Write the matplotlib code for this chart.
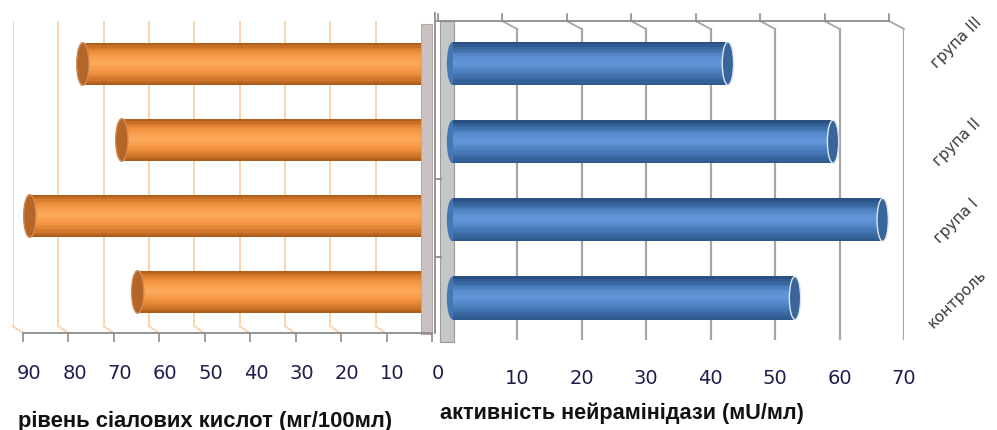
import matplotlib
matplotlib.use('Agg')
import matplotlib.pyplot as plt
from matplotlib.patches import Ellipse, Rectangle
from matplotlib.lines import Line2D
from matplotlib.colors import LinearSegmentedColormap
from matplotlib.transforms import ScaledTranslation

# data
groups = ['контроль', 'група I', 'група II', 'група III']
sialic = [62.5, 86.3, 66.0, 74.6]          # рівень сіалових кислот (мг/100мл)
neuraminidase = [53.1, 66.7, 59.0, 42.7]   # активність нейрамінідази (мU/мл)
left_ticks = [90, 80, 70, 60, 50, 40, 30, 20, 10, 0]
right_ticks = [0, 10, 20, 30, 40, 50, 60, 70]   # the shared "0" is drawn once, by the left axis
left_title = 'рівень сіалових кислот (мг/100мл)'
right_title = 'активність нейрамінідази (мU/мл)'

W, H = 997, 431
fig = plt.figure(figsize=(W / 100, H / 100), dpi=100)


def box(x0, y0, x1, y1):
    # pixel box (top-left origin) -> figure rect
    return [x0 / W, 1 - y1 / H, (x1 - x0) / W, (y1 - y0) / H]


def fig_line(xs, ys, **kw):
    fig.add_artist(Line2D([x / W for x in xs], [1 - y / H for y in ys], **kw))


def shift(artist, dx, dy):
    # nudge a text by pixels (perspective offsets of the 3d original)
    artist.set_transform(artist.get_transform() +
                         ScaledTranslation(dx / 100, dy / 100, fig.dpi_scale_trans))


def cylinder(ax, vals, h, stops, cap, cap_edge, cap_w, start=None, n=18):
    cmap = LinearSegmentedColormap.from_list('cyl', stops)
    pos = list(range(len(vals)))
    for k in range(n):
        off = -h / 2 + (k + 0.5) * h / n
        ax.barh([p + off for p in pos], vals, height=h / n * 1.05,
                color=cmap(1 - (k + 0.5) / n), lw=0, zorder=3)
    for p, v in zip(pos, vals):
        ax.add_patch(Ellipse((v, p), cap_w, h, fc=cap, ec=cap_edge, lw=1, zorder=4))
        if start is not None:
            ax.add_patch(Ellipse((0, p), cap_w, h, fc=start, lw=0, zorder=2, clip_on=False))


grey = '#8C8C8C'
num_color = '#1E1E4E'

# walls / divider (behind everything)
fig.add_artist(Rectangle((421 / W, 1 - 335 / H), 11 / W, 310 / H, transform=fig.transFigure,
                         fc='#CAC2C2', ec='#B8A8A0', lw=0.8, zorder=-1))
fig.add_artist(Rectangle((440 / W, 1 - 343 / H), 14 / W, 321 / H, transform=fig.transFigure,
                         fc='#C6C6C6', ec='#9A9A9A', lw=0.8, zorder=-1))
fig_line([434.5, 434.5], [14, 334], color=grey, lw=1.3)
fig_line([434.5, 441], [180, 180], color=grey, lw=1.3)
fig_line([434.5, 441], [258, 258], color=grey, lw=1.3)

# ---- left panel: sialic acids ----
axL = fig.add_axes(box(13, 22, 421, 334))
axL.set_xlim(90, 0)
axL.set_ylim(-0.54, 3.566)
axL.axis('off')
tr = axL.get_xaxis_transform()
for t in left_ticks[:-1]:
    axL.plot([t, t], [0.022, 1], transform=tr, color='#FCD3AE', lw=1.4, zorder=1)
    axL.plot([t, t - 2.2], [0.022, 0], transform=tr, color='#FCD3AE', lw=1.4, zorder=1,
             clip_on=False)
cylinder(axL, sialic, 0.56,
         ['#A9581A', '#E58633', '#F89F4E', '#FCAA5C', '#F69745', '#DA7C2E', '#A45619'],
         '#B46628', '#CF8A52', 2.7)

# front axis of the left panel
axF = fig.add_axes(box(23, 300, 432, 334))
axF.set_xlim(90, 0)
axF.patch.set_visible(False)
for s in ['top', 'left', 'right']:
    axF.spines[s].set_visible(False)
axF.spines['bottom'].set_color(grey)
axF.spines['bottom'].set_linewidth(1.3)
axF.set_yticks([])
axF.set_xticks(left_ticks)
axF.tick_params(axis='x', length=6.5, width=1.2, color=grey, labelsize=14,
                labelcolor=num_color, pad=15)
for lbl in axF.get_xticklabels():
    shift(lbl, 6, 0)

# ---- right panel: neuraminidase ----
axR = fig.add_axes(box(452.5, 22, 904, 341))
axR.set_xlim(0, 70)
axR.set_ylim(-0.537, 3.543)
axR.patch.set_visible(False)
for s in axR.spines.values():
    s.set_visible(False)
tr = axR.get_xaxis_transform()
for t in right_ticks[1:]:
    axR.plot([t, t], [0, 0.975], transform=tr, color='#A6A6A6', lw=1.6, zorder=1)
    axR.plot([t, t - 2.3], [0.975, 1.0], transform=tr, color='#A6A6A6', lw=1.3, zorder=1,
             clip_on=False)
for t in right_ticks:
    axR.plot([t - 2.3, t - 2.3], [1.0, 1.022], transform=tr, color=grey, lw=1.2, clip_on=False)
axR.plot([-2.4, 70 - 2.3], [1.0, 1.0], transform=tr, color=grey, lw=1.3, clip_on=False)
cylinder(axR, neuraminidase, 0.55,
         ['#284C7C', '#3C6CA6', '#5A8ED0', '#6397D9', '#4F83C3', '#3D6DA7', '#2C578A'],
         '#3A659A', '#DCE6F2', 1.75, start='#4677B3')
axR.set_xticks(right_ticks[1:])
axR.tick_params(axis='x', length=0, labelsize=14, labelcolor=num_color, pad=20)
axR.yaxis.tick_right()
axR.set_yticks(range(len(groups)))
axR.set_yticklabels(groups, rotation=45, ha='center', va='center')
axR.tick_params(axis='y', length=0, labelsize=11, labelcolor='#3A3A3A', pad=38)
shift(axR.get_yticklabels()[-1], 0, 22)

fig.text(18 / W, 1 - 421 / H, left_title, fontsize=15.8, fontweight='bold',
         family='Liberation Sans', color='#111111', va='center', ha='left')
fig.text(440 / W, 1 - 413 / H, right_title, fontsize=15.6, fontweight='bold',
         family='Liberation Sans', color='#111111', va='center', ha='left')

fig.savefig('out.png', dpi=100, facecolor='white')
